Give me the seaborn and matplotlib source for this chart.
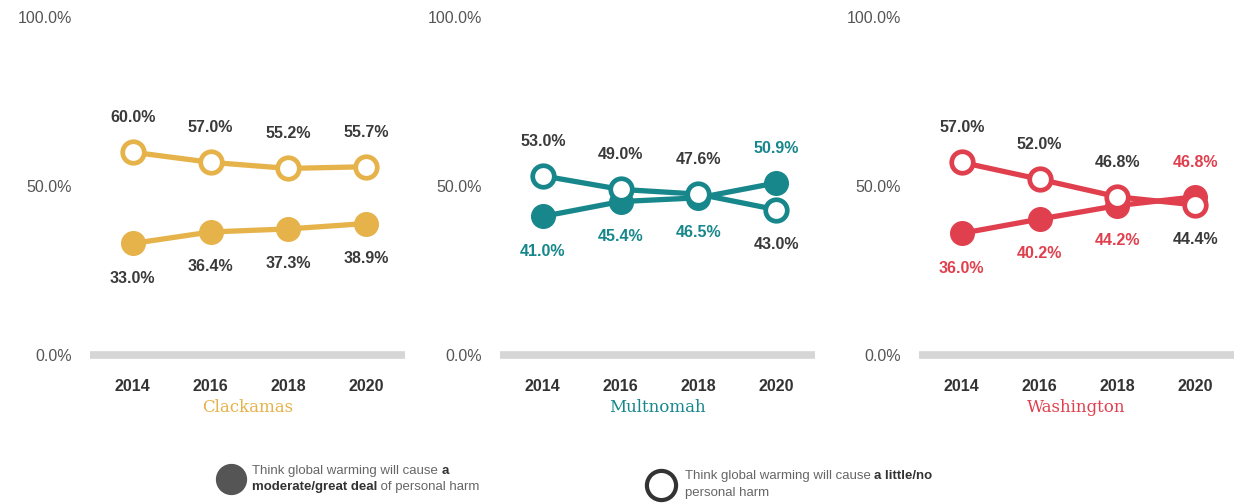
import matplotlib
matplotlib.use("Agg")
import matplotlib.pyplot as plt
import seaborn as sns
import pandas as pd
from matplotlib.lines import Line2D

# ---- data ----
years = ["2014", "2016", "2018", "2020"]
counties = ["Clackamas", "Multnomah", "Washington"]
clackamas_great = [33.0, 36.4, 37.3, 38.9]
clackamas_little = [60.0, 57.0, 55.2, 55.7]
multnomah_great = [41.0, 45.4, 46.5, 50.9]
multnomah_little = [53.0, 49.0, 47.6, 43.0]
washington_great = [36.0, 40.2, 44.2, 46.8]
washington_little = [57.0, 52.0, 46.8, 44.4]
ytick_values = [0, 50, 100]
ytick_labels = ["0.0%", "50.0%", "100.0%"]

colors = {"Clackamas": "#E6B24A", "Multnomah": "#17878C", "Washington": "#E0404E"}
great_label_colors = {"Clackamas": "#3a3a3a", "Multnomah": "#17878C", "Washington": "#E0404E"}
series = {
    "Clackamas": (clackamas_great, clackamas_little),
    "Multnomah": (multnomah_great, multnomah_little),
    "Washington": (washington_great, washington_little),
}

sns.set_theme(style="white")
plt.rcParams["font.family"] = ["Liberation Sans", "DejaVu Sans"]

W, H = 1237, 503
fig = plt.figure(figsize=(W / 100, H / 100), dpi=100)
fig.patch.set_facecolor("white")

lefts = [90, 500, 919]
ax_w = 315
y0_px, y100_px = 355, 17

for county, left in zip(counties, lefts):
    ax = fig.add_axes([left / W, 1 - y0_px / H, ax_w / W, (y0_px - y100_px) / H])
    great, little = series[county]
    df = pd.DataFrame({"year": years, "great": great, "little": little})
    df["x"] = range(len(years))
    col = colors[county]
    sns.lineplot(data=df, x="x", y="great", ax=ax, color=col, lw=3.8,
                 marker="o", markersize=17, markerfacecolor=col,
                 markeredgecolor=col, markeredgewidth=1, zorder=3)
    sns.lineplot(data=df, x="x", y="little", ax=ax, color=col, lw=3.8,
                 marker="o", markersize=15.5, markerfacecolor="white",
                 markeredgecolor=col, markeredgewidth=3.4, zorder=4)
    for i in range(len(years)):
        g, l = great[i], little[i]
        g_off = 25 if g > l else -25
        l_off = -g_off
        ax.annotate(f"{g:.1f}%", (i, g), xytext=(0, g_off), textcoords="offset points",
                    ha="center", va="center", fontsize=11.5, fontweight="bold",
                    color=great_label_colors[county])
        ax.annotate(f"{l:.1f}%", (i, l), xytext=(0, l_off), textcoords="offset points",
                    ha="center", va="center", fontsize=11.5, fontweight="bold",
                    color="#3a3a3a")
    ax.axhline(0, color="#d6d6d6", lw=5.5, zorder=1, solid_capstyle="butt", clip_on=False)
    ax.set_xlim(-0.55, 3.5)
    ax.set_ylim(0, 100)
    ax.set_yticks(ytick_values)
    ax.set_yticklabels(ytick_labels, fontsize=11.5, color="#555555")
    ax.set_xticks(range(len(years)))
    ax.set_xticklabels(years, fontsize=11.5, fontweight="bold", color="#333333")
    ax.tick_params(axis="y", length=0, pad=13)
    ax.tick_params(axis="x", length=0, pad=17)
    for s in ax.spines.values():
        s.set_visible(False)
    ax.set_xlabel(county, fontsize=12, color=col, family="DejaVu Serif", labelpad=4)
    ax.set_ylabel("")
    ax.set_facecolor("none")

# ---- legend ----
lg = fig.add_axes([0, 0, 1, 1])
lg.set_xlim(0, W)
lg.set_ylim(H, 0)
lg.axis("off")
lg.add_line(Line2D([231], [479], marker="o", markersize=21.5, color="#555555",
                   markerfacecolor="#555555", ls="none"))
lg.add_line(Line2D([661], [485], marker="o", markersize=21, color="#333333",
                   markerfacecolor="white", markeredgewidth=3, ls="none"))

fs = 9.5
t1 = lg.text(252, 471, "Think global warming will cause ", fontsize=fs, color="#666666",
             va="center", ha="left")
lg.annotate("a", xy=(1, 0), xycoords=t1, va="bottom", ha="left", fontsize=fs,
            fontweight="bold", color="#333333")
t2 = lg.text(252, 487, "moderate/great deal", fontsize=fs, color="#333333",
             fontweight="bold", va="center", ha="left")
lg.annotate(" of personal harm", xy=(1, 0), xycoords=t2, va="bottom", ha="left",
            fontsize=fs, color="#666666")

t3 = lg.text(685, 476, "Think global warming will cause ", fontsize=fs, color="#666666",
             va="center", ha="left")
lg.annotate("a little/no", xy=(1, 0), xycoords=t3, va="bottom", ha="left", fontsize=fs,
            fontweight="bold", color="#333333")
lg.text(685, 493, "personal harm", fontsize=fs, color="#666666", va="center", ha="left")

fig.savefig("out.png", dpi=100, facecolor="white")
